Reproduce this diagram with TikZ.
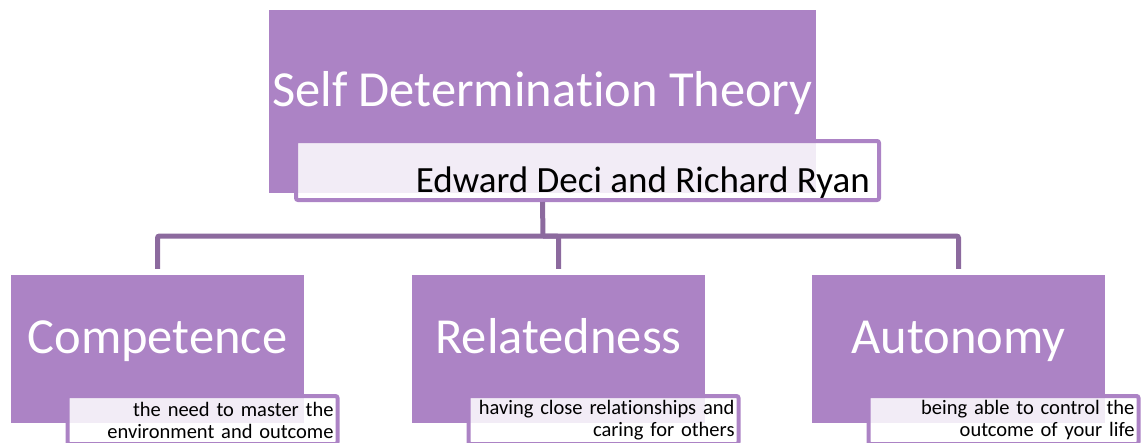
\documentclass[tikz,border=0pt]{standalone}
\usepackage{fontspec}
\setmainfont{Carlito}[Ligatures=NoCommon]
\usepackage{xcolor}
\usepackage{tikz}
\definecolor{sdtpurple}{HTML}{AC83C5}
\definecolor{sdtlink}{HTML}{8C6A9E}

\begin{document}
\begin{tikzpicture}[x=1pt, y=-1pt,
    block/.style={fill=sdtpurple, inner sep=0pt},
    caption/.style={draw=sdtpurple, line width=4pt, fill=white, fill opacity=0.85,
      text opacity=1, rounded corners=2pt, inner sep=0pt},
    heading/.style={text=white, inner sep=0pt, font=\fontsize{50.5}{60}\selectfont},
    note/.style={caption, anchor=north, minimum width=270pt, minimum height=48pt,
      text width=262pt, align=right, font=\fontsize{20.5}{22}\selectfont},
    link/.style={draw=sdtlink, line width=5pt, rounded corners=2pt},
  ]
  \useasboundingbox (0,0) rectangle (1142,442);
  % Theory
  \node[block, minimum width=547pt, minimum height=183pt] (sdt) at (542.5,101.5) {};
  \node[heading, anchor=base] (sdttitle) at (542.5,106) {Self Determination Theory};
  \node[caption, minimum width=583pt, minimum height=59pt] (authors) at (587.5,170.5) {};
  \node[anchor=base east, inner sep=0pt, font=\fontsize{37}{44}\selectfont]
    (authorsname) at (870,192) {Edward Deci and Richard Ryan};
  % Needs
  \node[block, minimum width=293pt, minimum height=148pt] (comp) at (157.5,349) {};
  \node[block, minimum width=293pt, minimum height=148pt] (rel) at (558.5,349) {};
  \node[block, minimum width=293pt, minimum height=148pt] (auto) at (958.5,349) {};
  \node[heading, anchor=base] (comptitle) at (157.5,353) {Competence};
  \node[heading, anchor=base] (reltitle) at (558.5,353) {Relatedness};
  \node[heading, anchor=base] (autotitle) at (958.5,353) {Autonomy};
  % Descriptions
  \node[note] (compnote) at (202.5,394) {the need to master the\\environment and outcome};
  \node[note] (relnote) at (603.5,394) {having close relationships and\\caring for others};
  \node[note] (autonote) at (1003.5,394) {being able to control the\\outcome of your life};
  % Connectors
  \coordinate (hub) at (543,236);
  \draw[link] (sdt.south |- authors.south) -- (hub);
  \draw[link, shorten >=6pt] (hub) -| (comp.north);
  \draw[link, shorten >=6pt] (hub) -| (rel.north);
  \draw[link, shorten >=6pt] (hub) -| (auto.north);
\end{tikzpicture}
\end{document}
